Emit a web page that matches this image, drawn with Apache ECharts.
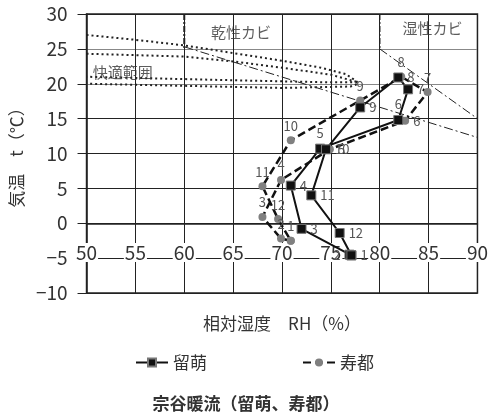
<!DOCTYPE html>
<html>
<head>
<meta charset="utf-8">
<script src="https://cdn.jsdelivr.net/npm/echarts@6/dist/echarts.min.js"></script>
<style>html,body{margin:0;background:#fff}#chart{width:492px;height:420px}</style>
</head>
<body>
<div id="chart"></div>
<script>
// monthly mean RH (%) and air temperature (°C), months 1..12
const months=[1,2,3,4,5,6,7,8,9,10,11,12];
const rumoiRH=[77.1,76.9,72.0,70.9,73.9,81.9,82.9,81.9,78.0,74.5,73.0,75.9];
const rumoiT=[-4.6,-4.5,-0.8,5.4,10.7,14.8,19.2,20.9,16.6,10.6,4.0,-1.4];
const suttsuRH=[70.9,69.9,68.0,69.9,74.9,82.6,84.9,82.2,78.0,70.9,68.0,69.6];
const suttsuT=[-2.5,-2.2,0.9,6.2,10.6,14.7,18.8,21.0,17.6,11.9,5.3,0.6];

// comfort zone outlines (dotted)
const outerRH=[50,55,60,65,70,74,76.5,77.6,77.8,77.0,70,60,50];
const outerT=[27.0,26.3,25.5,24.4,23.3,22.3,21.4,20.4,20.0,19.6,19.4,19.7,20.0];
const innerRH=[50,60,65,70,75,77.8,75,65,50];
const innerT=[24.3,23.9,23.2,22.3,21.3,20.2,20.2,20.5,21.0];

// mould boundaries (dash-dot)
const dryRH=[60,90], dryT=[25.3,12.3];
const wetRH=[80,90], wetT=[25,15];
const dryEdgeRH=[60,60], wetEdgeRH=[80,80], edgeT=[30,25];

const notes=['乾性カビ','湿性カビ','快適範囲'];
const notesRH=[65.8,85.4,53.7];
const notesT=[27.4,28.0,21.7];

const rumoiLabelPos=['right','left','right','right','top','top','right','right','right','right','right','right'];
const suttsuLabelPos=['top','top','top','top','right','right','top','top','top','top','top','top'];

const font='"Noto Sans CJK JP", "Noto Sans", sans-serif';
const zip=(a,b)=>a.map((v,i)=>[v,b[i]]);

function monthData(rh,t,pos){
  const d=months.map((m,i)=>({value:[rh[i],t[i]],name:String(m),label:{position:pos[i]}}));
  d.push({value:[rh[0],t[0]],name:'',label:{show:false}});
  return d;
}

function guide(data,type,width){
  return {type:'line',data,symbol:'none',silent:true,z:1,
    lineStyle:{color:'#222',width,type}};
}

const chart=echarts.init(document.getElementById('chart'));
chart.setOption({
  animation:false,
  textStyle:{fontFamily:font},
  title:{text:'宗谷暖流（留萌、寿都）',left:'center',top:390,
    textStyle:{fontFamily:font,fontSize:17,fontWeight:'bold',color:'#333'}},
  legend:{data:['留萌','寿都'],left:130,top:349,itemWidth:32,itemHeight:10,itemGap:95,
    textStyle:{fontFamily:font,fontSize:17,color:'#333'}},
  grid:{left:82,right:11,top:14,bottom:127,show:true,borderColor:'#222',borderWidth:1.5},
  xAxis:{type:'value',min:50,max:90,interval:5,
    name:'相対湿度　RH（%）',nameLocation:'middle',nameGap:22,
    nameTextStyle:{fontFamily:font,fontSize:17,color:'#333'},
    axisLine:{lineStyle:{color:'#222',width:1.5}},
    axisTick:{show:false},
    axisLabel:{inside:true,margin:31,fontSize:19,color:'#333',fontFamily:font,
      backgroundColor:'#fff',padding:[0,1]},
    splitLine:{lineStyle:{color:'#222',width:1}}},
  yAxis:{type:'value',min:-10,max:30,interval:5,
    name:'気温　t（℃）',nameLocation:'middle',nameGap:58,nameRotate:90,
    nameTextStyle:{fontFamily:font,fontSize:17,color:'#333'},
    axisLine:{show:true,lineStyle:{color:'#222',width:1.5}},
    axisTick:{show:true,length:9,lineStyle:{color:'#222'}},
    axisLabel:{margin:19,fontSize:19,color:'#333',fontFamily:font,
      formatter:v=>String(v).replace('-','−')},
    splitLine:{lineStyle:{color:['#222','#222','#222','#222','#222','#222','#888','#888','#222'],width:1}}},
  series:[
    guide(zip(outerRH,outerT),[2,3],2),
    guide(zip(innerRH,innerT),[2,3],2),
    guide(zip(dryRH,dryT),[9,3,2,3],1),
    guide(zip(wetRH,wetT),[9,3,2,3],1),
    guide(zip(dryEdgeRH,edgeT),[6,2,2,2],2),
    guide(zip(wetEdgeRH,edgeT),[6,2,2,2],1.5),
    {type:'scatter',silent:true,z:1,symbolSize:1,itemStyle:{color:'transparent'},
      data:notes.map((n,i)=>({name:n,value:[notesRH[i],notesT[i]]})),
      label:{show:true,position:'inside',formatter:'{b}',fontFamily:font,fontSize:15,color:'#333'}},
    {name:'寿都',type:'line',z:3,data:monthData(suttsuRH,suttsuT,suttsuLabelPos),
      symbol:'circle',symbolSize:8,
      itemStyle:{color:'#808080'},
      lineStyle:{color:'#111',width:2.5,type:[8,4]},
      label:{show:true,formatter:'{b}',fontFamily:font,fontSize:13,color:'#555',distance:4}},
    {name:'留萌',type:'line',z:4,data:monthData(rumoiRH,rumoiT,rumoiLabelPos),
      symbol:'rect',symbolSize:9,
      itemStyle:{color:'#111',borderColor:'#777',borderWidth:1},
      lineStyle:{color:'#111',width:2},
      label:{show:true,formatter:'{b}',fontFamily:font,fontSize:13,color:'#555',distance:4}}
  ]
});
</script>
</body>
</html>
